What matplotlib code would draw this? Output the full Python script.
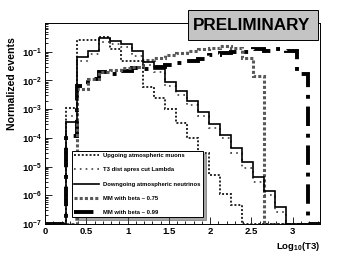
import numpy as np
import matplotlib
matplotlib.use("Agg")
import matplotlib.pyplot as plt
from matplotlib.patches import Rectangle
from matplotlib.ticker import MultipleLocator, LogLocator, NullFormatter

plt.rcParams['font.family'] = ['Liberation Sans', 'DejaVu Sans']
plt.rcParams['font.weight'] = 'bold'
plt.rcParams['mathtext.fontset'] = 'custom'
plt.rcParams['mathtext.rm'] = 'Liberation Sans:bold'
plt.rcParams['mathtext.bf'] = 'Liberation Sans:bold'

# bin edges of the histograms (first bin = empty region below 0.25)
edges = [0.0, 0.25, 0.384, 0.517, 0.651, 0.784, 0.918, 1.051, 1.185, 1.318,
         1.452, 1.585, 1.719, 1.852, 1.986, 2.119, 2.253, 2.386, 2.520,
         2.653, 2.787, 2.920, 3.054, 3.187, 3.33]

upgoing_mu = [0, 1.1e-3, 0.26, 0.26, 0.32, 0.12, 0.049, 0.049, 6e-3, 2.5e-3,
              1e-3, 3.3e-4, 1e-4, 3e-5, 5e-6, 1.1e-6, 4.6e-7, 0, 0, 0, 0, 0, 0, 0]
t3_cut = [0, 6e-4, 0.048, 0.085, 0.22, 0.19, 0.15, 0.07, 0.035, 0.02,
          6.5e-3, 3.2e-3, 1.4e-3, 6e-4, 2.3e-4, 1e-4, 3e-5, 9e-6, 3e-6,
          1e-6, 2.7e-7, 0, 0, 0]
downgoing_nu = [0, 3.5e-4, 0.067, 0.11, 0.30, 0.23, 0.19, 0.11, 0.043, 0.026,
                8.5e-3, 4.3e-3, 1.9e-3, 8e-4, 3e-4, 1.3e-4, 4.4e-5, 1.4e-5,
                4.5e-6, 1.4e-6, 4e-7, 0, 0, 0]
mm_beta075 = [0, 0, 5e-3, 0.011, 0.02, 0.024, 0.027, 0.03, 0.05, 0.062,
              0.076, 0.093, 0.105, 0.12, 0.14, 0.16, 0.13, 0.06, 0.014,
              0, 0, 0, 0, 0]
mm_beta099 = [0, 1.2e-4, 6.5e-3, 0.011, 0.02, 0.017, 0.022, 0.027, 0.025, 0.03,
              0.036, 0.04, 0.047, 0.055, 0.075, 0.093, 0.1, 0.1, 0.12, 0.11,
              0.12, 0.11, 0.017, 0]

labels = ["Upgoing atmospheric muons", "T3 dist apres cut Lambda",
          "Downgoing atmospheric neutrinos", "MM with beta ~ 0.75",
          "MM with beta ~ 0.99"]

ymin, ymax = 1e-7, 1.0

fig = plt.figure(figsize=(3.46, 2.62), dpi=100)
ax = fig.add_axes([0.13, 0.145, 0.795, 0.767])

def floor(v):
    return np.clip(np.array(v, dtype=float), ymin * 1.02, None)

ax.stairs(floor(mm_beta099), edges, baseline=None, color='black', lw=2.8,
          linestyle=(0, (5, 2, 1, 2)), label=labels[4], zorder=3)
ax.stairs(floor(mm_beta075), edges, baseline=None, color='0.35', lw=2.2,
          linestyle=(0, (1, 0.7)), label=labels[3], zorder=4)
ax.stairs(floor(upgoing_mu), edges, baseline=None, color='0.15', lw=1.4,
          linestyle=(0, (1, 1)), label=labels[0], zorder=5)
ax.stairs(floor(t3_cut), edges, baseline=None, color='0.25', lw=1.2,
          linestyle=(0, (1, 2.5)), label=labels[1], zorder=5)
ax.stairs(floor(downgoing_nu), edges, baseline=None, color='black', lw=1.2,
          label=labels[2], zorder=6)

ax.set_yscale('log')
ax.set_xlim(0, 3.33)
ax.set_ylim(ymin, ymax)

ax.set_xticks([0, 0.5, 1, 1.5, 2, 2.5, 3], ["0", "0.5", "1", "1.5", "2", "2.5", "3"])
ax.xaxis.set_minor_locator(MultipleLocator(0.1))
ax.set_yticks([1e-7, 1e-6, 1e-5, 1e-4, 1e-3, 1e-2, 1e-1],
              [r"$10^{-7}$", r"$10^{-6}$", r"$10^{-5}$", r"$10^{-4}$",
               r"$10^{-3}$", r"$10^{-2}$", r"$10^{-1}$"])
ax.yaxis.set_minor_locator(LogLocator(base=10, subs=np.arange(2, 10), numticks=20))
ax.yaxis.set_minor_formatter(NullFormatter())
ax.tick_params(axis='both', which='both', direction='in', labelsize=6.8, width=0.6)
ax.tick_params(which='major', length=5, pad=2)
ax.tick_params(which='minor', length=2.5)
ax.tick_params(top=False, right=False)
for s in ax.spines.values():
    s.set_linewidth(0.7)

ax.set_ylabel("Normalized events", fontsize=7.6, fontweight='bold', loc='top')
ax.yaxis.set_label_coords(-0.1, 0.93)
ax.set_xlabel(r"Log$_{10}$(T3)", fontsize=6.8, fontweight='bold', loc='right')
ax.xaxis.set_label_coords(1.0, -0.08)

h, l = ax.get_legend_handles_labels()
order = [l.index(t) for t in labels]
leg = ax.legend([h[i] for i in order], [l[i] for i in order],
                bbox_to_anchor=(0.098, 0.02, 0.477, 0.358), loc='center',
                mode='expand', fontsize=4.2, handlelength=4.2, handletextpad=0.8,
                labelspacing=1.55, borderaxespad=0, fancybox=False, shadow=True,
                framealpha=1, edgecolor='black')
leg.get_frame().set_linewidth(0.7)
leg.set_zorder(10)

# PRELIMINARY box
fig.patches.append(Rectangle((188 / 346, 1 - 40 / 262), 130 / 346, 30 / 262,
                             transform=fig.transFigure, facecolor='#c4c4c4',
                             edgecolor='black', lw=0.7, zorder=20))
fig.text(251 / 346, 1 - 25 / 262, "PRELIMINARY", fontsize=12.3, fontweight='bold',
         ha='center', va='center', zorder=21)

fig.savefig("out.png", dpi=100)
